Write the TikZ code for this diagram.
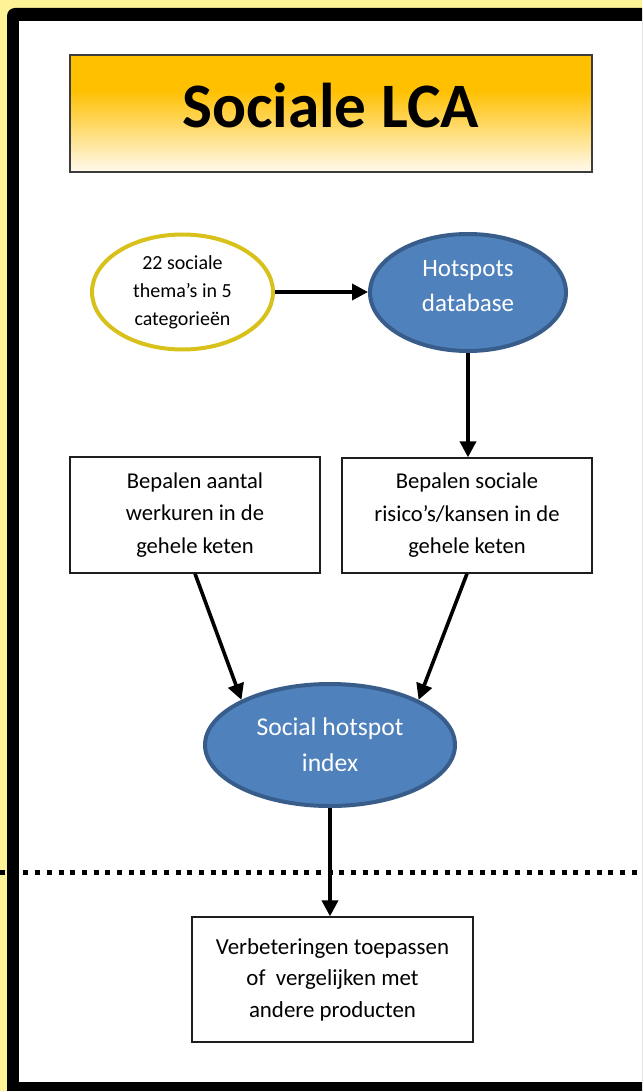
\documentclass[tikz,border=0pt]{standalone}
\usepackage{fontspec}
\setmainfont{Carlito}
\usetikzlibrary{shapes.geometric,arrows.meta}
\definecolor{glow}{RGB}{253,243,150}
\definecolor{gold}{RGB}{217,193,28}
\definecolor{hsfill}{RGB}{79,129,189}
\definecolor{hsline}{RGB}{56,93,138}
\definecolor{titleorange}{RGB}{255,192,0}
\definecolor{titlebottom}{RGB}{255,250,238}
\definecolor{boxline}{RGB}{30,30,30}
\definecolor{titleline}{RGB}{60,60,60}
\pgfdeclareverticalshading{titleshade}{100bp}{color(0bp)=(titlebottom); color(25bp)=(titlebottom); color(60bp)=(titleorange); color(100bp)=(titleorange)}
\newcommand\myfs[2]{\fontsize{#1}{#2}\selectfont}
\begin{document}
\begin{tikzpicture}[x=1pt,y=-1pt,
  stepbox/.style={draw=boxline, line width=1.3pt, fill=white, rectangle, inner sep=0pt, align=center},
  themeell/.style={draw=gold, line width=4pt, fill=white, ellipse, inner sep=0pt, align=center},
  blueell/.style={draw=hsline, line width=4pt, fill=hsfill, ellipse, inner sep=0pt, align=center, text=white},
  conn/.style={line width=3.6pt, -{Triangle[length=16pt,width=16pt]}},
]
\useasboundingbox (0,0) rectangle (642,1091);
\clip (0,0) rectangle (642,1091);
% background glow and frame
\fill[glow] (0,0) rectangle (642,1091);
\fill[black, rounded corners=8pt] (7,8) rectangle (680,1130);
\fill[white] (19,21) rectangle (660,1082);

% title
\node[draw=titleline, line width=2pt, shading=titleshade, rectangle, inner sep=0pt,
  minimum width=522pt, minimum height=117pt] (titlebox) at (331,113.5) {};
\node[anchor=base, inner sep=0pt, font=\bfseries\myfs{63.3}{70}] (titletext) at (330.5,128) {Sociale LCA};

% nodes
\node[themeell, minimum width=181pt, minimum height=115pt, font=\myfs{20}{28}] (themes) at (182.5,292)
  {22 sociale\\thema’s in 5\\categorieën};
\node[blueell, minimum width=196pt, minimum height=117pt, font=\myfs{25}{35}, text depth=13pt] (hotspots) at (468,292.5)
  {Hotspots\\database};
\node[stepbox, minimum width=250pt, minimum height=116pt, font=\myfs{22.6}{32.5}] (werkuren) at (195,515)
  {Bepalen aantal\\werkuren in de\\gehele keten};
\node[stepbox, minimum width=250pt, minimum height=115pt, font=\myfs{22.6}{32.5}] (risico) at (467,515.5)
  {Bepalen sociale\\risico’s/kansen in de\\gehele keten};
\node[blueell, minimum width=250pt, minimum height=122pt, font=\myfs{25.6}{36}] (index) at (330,745)
  {Social hotspot\\index};

% dotted separator
\coordinate (sepL) at (0,872);
\coordinate (sepR) at (642,872);
\draw[line width=5pt, dash pattern=on 5pt off 6.7pt] (sepL) -- (sepR);

\node[stepbox, minimum width=281pt, minimum height=125pt, font=\myfs{22.9}{31.5}] (final) at (332.5,979.5)
  {Verbeteringen toepassen\\of~ vergelijken met\\andere producten};

% connectors
\draw[conn] (themes.east) -- (themes.east -| hotspots.west);
\draw[conn] (hotspots.south) -- (hotspots.south |- risico.north);
\draw[conn] (werkuren.south) -- (index.153);
\draw[conn] (risico.south) -- (index.27);
\draw[conn] (index.south) -- (index.south |- final.north);
\end{tikzpicture}
\end{document}
